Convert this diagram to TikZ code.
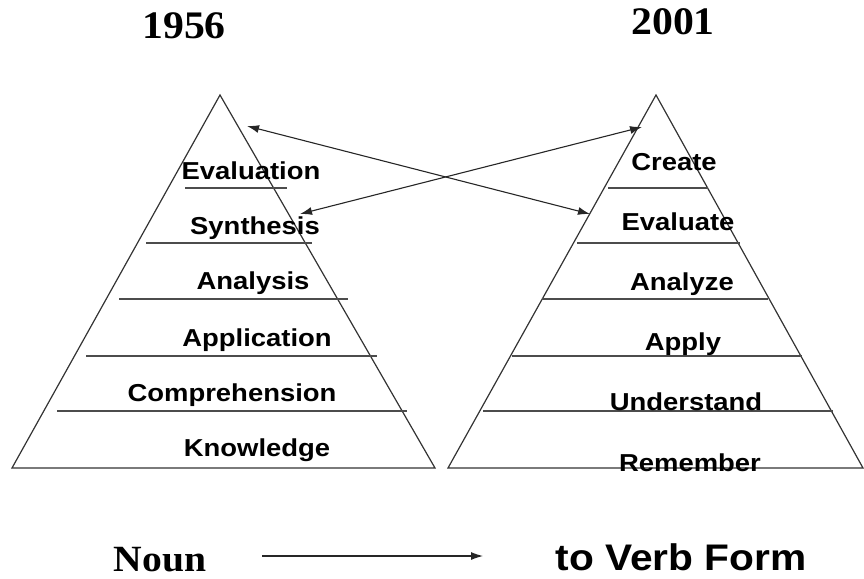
\documentclass[tikz,border=0pt]{standalone}
\usepackage{fontspec}
\usetikzlibrary{arrows.meta}
\newfontfamily\lvlfont[FakeStretch=1.12]{Liberation Sans}
\newfontfamily\yearfont[FakeStretch=1.07]{Liberation Serif}
\newfontfamily\verbfont[FakeStretch=1.1]{Liberation Sans}
\begin{document}
\begin{tikzpicture}[x=1pt,y=-1pt,
  pyr/.style={draw=black!80,line width=1.2pt,line join=miter},
  tier/.style={draw=black!70,line width=1.8pt},
  lvl/.style={inner sep=0pt,anchor=base,font=\lvlfont\bfseries\fontsize{24.5}{28}\selectfont},
  year/.style={inner sep=0pt,anchor=base,font=\yearfont\bfseries\fontsize{39}{44}\selectfont},
  link/.style={draw=black!85,line width=1.1pt,{Latex[length=12pt,width=8pt]}-{Latex[length=12pt,width=8pt]}},
  flow/.style={draw=black!85,line width=1.1pt,-{Latex[length=12pt,width=8pt]}}]
\useasboundingbox (0,0) rectangle (864,578);

% years
\node[year] (y1) at (184,39) {1956};
\node[year] (y2) at (673,35) {2001};

% 1956 pyramid
\draw[pyr] (220,95) -- (435,468) -- (12,468) -- cycle;
\draw[tier] (185,188) -- (287,188);
\draw[tier] (146,243) -- (312,243);
\draw[tier] (119,299) -- (348,299);
\draw[tier] (86,356) -- (377,356);
\draw[tier] (57,411) -- (407,411);
\node[lvl] (evaluation) at (251,179) {Evaluation};
\node[lvl] (synthesis) at (255,234) {Synthesis};
\node[lvl] (analysis) at (253,289) {Analysis};
\node[lvl] (application) at (257,346) {Application};
\node[lvl] (comprehension) at (232,401) {Comprehension};
\node[lvl] (knowledge) at (257,456) {Knowledge};

% 2001 pyramid
\draw[pyr] (656,95) -- (863,468) -- (448,468) -- cycle;
\draw[tier] (608,188) -- (708,188);
\draw[tier] (577,243) -- (740,243);
\draw[tier] (542,299) -- (768,299);
\draw[tier] (512,356) -- (802,356);
\draw[tier] (483,411) -- (833,411);
\node[lvl] (create) at (674,170) {Create};
\node[lvl] (evaluate) at (678,230) {Evaluate};
\node[lvl] (analyze) at (682,290) {Analyze};
\node[lvl] (apply) at (683,350) {Apply};
\node[lvl] (understand) at (686,410) {Understand};
\node[lvl] (remember) at (690,471) {Remember};

% crossing links between the two top levels
\coordinate (evalTop) at (247,126);
\coordinate (synthEnd) at (300,214);
\coordinate (createEnd) at (642,127);
\coordinate (evaluateEnd) at (590,214);
\draw[link] (evalTop) -- (evaluateEnd);
\draw[link] (synthEnd) -- (createEnd);

% bottom caption
\node[year,font=\yearfont\bfseries\fontsize{37}{42}\selectfont] (noun) at (160,571) {Noun};
\node[inner sep=0pt,anchor=base,font=\verbfont\bfseries\fontsize{37}{42}\selectfont] (verb) at (681,570) {to Verb Form};
\coordinate (flowStart) at (262,556);
\coordinate (flowEnd) at (483,556);
\draw[flow] (flowStart) -- (flowEnd);
\end{tikzpicture}
\end{document}
